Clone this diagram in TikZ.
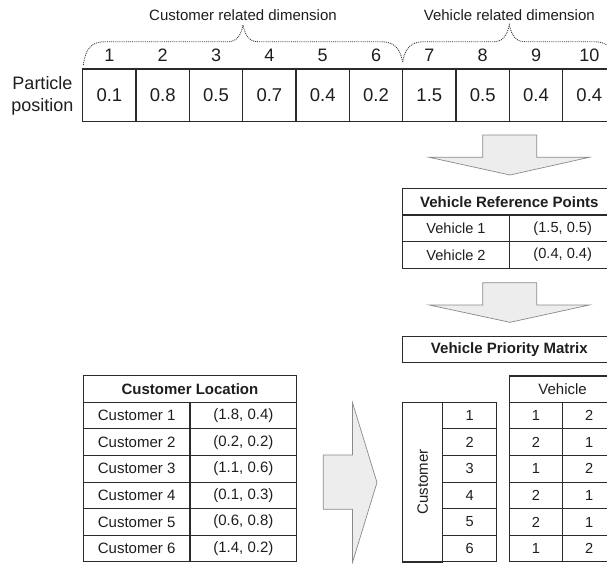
\documentclass[tikz,border=0pt]{standalone}
\usepackage{fontspec}
\setmainfont{Liberation Sans}
\definecolor{linec}{HTML}{2B2B2B}
\definecolor{txtc}{HTML}{1E1E1E}
\definecolor{arrowfill}{HTML}{EDEDED}
\definecolor{arrowline}{HTML}{8A8A8A}
\definecolor{dotc}{HTML}{3A3A3A}
\begin{document}
\begin{tikzpicture}[x=1pt,y=-1pt,
  every node/.style={text=txtc, inner sep=0pt},
  cellbox/.style={draw=linec, line width=1.1pt, inner sep=0pt, anchor=center},
  pcell/.style={cellbox, minimum width=53.33pt, minimum height=52.7pt, font=\fontsize{18.5}{20}\selectfont},
  idx/.style={font=\fontsize{18}{20}\selectfont},
  dimlabel/.style={font=\fontsize{15}{17}\selectfont},
  tcell/.style={cellbox, minimum height=26.6pt, font=\fontsize{14.6}{16}\selectfont},
  ttitle/.style={cellbox, minimum height=26.6pt, font=\fontsize{15}{17}\selectfont\bfseries},
  bracepath/.style={draw=dotc, line width=0.9pt, densely dotted},
  blockarrow/.style={fill=arrowfill, draw=arrowline, line width=0.7pt, line join=miter}
]
\useasboundingbox (0,0) rectangle (607,563);
\fill[white] (0,0) rectangle (607,563);
\clip (0,0) rectangle (607,563);

% ---- particle position vector ----
\node[align=center, font=\fontsize{18}{22}\selectfont] (plabel) at (42.5,96) {Particle\\position};
\foreach \v [count=\i] in {0.1,0.8,0.5,0.7,0.4,0.2,1.5,0.5,0.4,0.4} {
  \node[pcell] (p\i) at ({82.7+53.33*(\i-0.5)},95.35) {\v};
  \node[idx] (n\i) at ({82.7+53.33*(\i-0.5)},55.5) {\i};
}

% ---- dimension braces ----
\node[dimlabel] (cdim) at (243,15.5) {Customer related dimension};
\node[dimlabel] (vdim) at (509.3,15.5) {Vehicle related dimension};
\path[bracepath] (83.3,65) .. controls (86,47) and (92,41.7) .. (106,41.7)
  -- (228,41.7) .. controls (237,41.7) and (241,35) .. (243,25)
  .. controls (245,35) and (249,41.7) .. (258,41.7)
  -- (381,41.7) .. controls (394,41.7) and (400,48) .. (402.7,62);
\path[bracepath] (402.7,62) .. controls (405,48) and (411,41.7) .. (424,41.7)
  -- (494,41.7) .. controls (503,41.7) and (507,35) .. (509.3,25)
  .. controls (511.6,35) and (515.6,41.7) .. (524.6,41.7)
  -- (594,41.7) .. controls (607,41.7) and (613,48) .. (616,62);

% ---- block arrows ----
\path[blockarrow] (482.7,135) -- (536.7,135) -- (536.7,157.3) -- (589.3,157.3)
  -- (510,175) -- (429.3,157.3) -- (482.7,157.3) -- cycle;
\path[blockarrow] (482.7,282.7) -- (536.7,282.7) -- (536.7,305) -- (589.3,305)
  -- (510,322.3) -- (429.3,305) -- (482.7,305) -- cycle;
\path[blockarrow] (323.3,455) -- (352.5,455) -- (352.5,402.7) -- (377,482.5)
  -- (352.5,562.3) -- (352.5,509.3) -- (323.3,509.3) -- cycle;

% ---- vehicle reference points ----
\node[ttitle, minimum width=213.3pt] (vrp) at (509.35,201.65) {Vehicle Reference Points};
\node[tcell, minimum width=106.67pt] (v1) at (456,228.35) {Vehicle 1};
\node[tcell, minimum width=106.67pt] (v1p) at (562.7,228.35) {(1.5, 0.5)};
\node[tcell, minimum width=106.67pt] (v2) at (456,255) {Vehicle 2};
\node[tcell, minimum width=106.67pt] (v2p) at (562.7,255) {(0.4, 0.4)};

% ---- vehicle priority matrix ----
\node[ttitle, minimum width=213.3pt] (vpm) at (509.35,349.35) {Vehicle Priority Matrix};
\node[tcell, minimum width=106.67pt, minimum height=26.3pt, font=\fontsize{15}{17}\selectfont] (vhead) at (562.65,389.15) {Vehicle};
% rotated label column: width runs along the text, i.e. vertically
\node[cellbox, minimum width=159.7pt, minimum height=40pt, rotate=90, font=\fontsize{15}{17}\selectfont] (custcol) at (422.7,482.15) {Customer};
\foreach \a/\b [count=\i] in {1/2,2/1,1/2,2/1,2/1,1/2} {
  \node[tcell, minimum width=54pt] (ci\i) at (469.7,{402.3+13.3+26.6*(\i-1)}) {\i};
  \node[tcell, minimum width=53.33pt] (pa\i) at (536,{402.3+13.3+26.6*(\i-1)}) {\a};
  \node[tcell, minimum width=53.33pt] (pb\i) at (589.3,{402.3+13.3+26.6*(\i-1)}) {\b};
}

% ---- customer locations ----
\node[ttitle, minimum width=213.4pt] (cloc) at (190,389) {Customer Location};
\foreach \c [count=\i] in {(1.8, 0.4),(0.2, 0.2),(1.1, 0.6),(0.1, 0.3),(0.6, 0.8),(1.4, 0.2)} {
  \node[tcell, minimum width=106.7pt, font=\fontsize{15}{17}\selectfont] (cn\i) at (136.65,{402.3+13.3+26.6*(\i-1)}) {Customer \i};
  \node[tcell, minimum width=106.7pt, font=\fontsize{15}{17}\selectfont] (cxy\i) at (243.35,{402.3+13.3+26.6*(\i-1)}) {\c};
}
\end{tikzpicture}
\end{document}
